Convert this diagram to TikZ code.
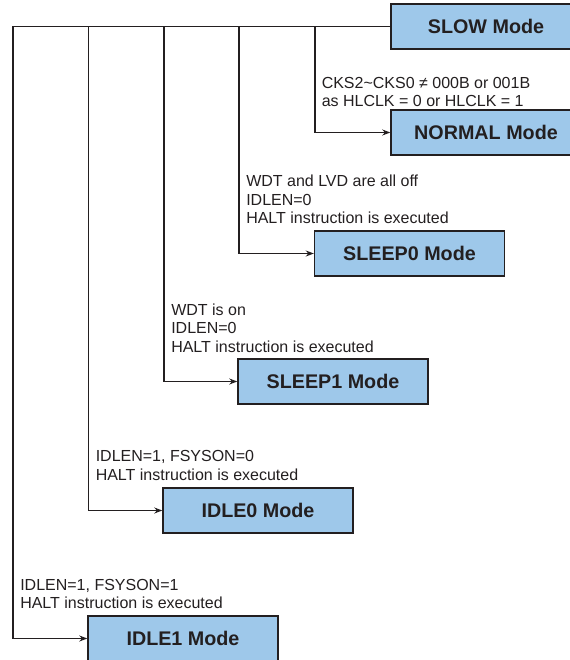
\documentclass[tikz,border=0pt]{standalone}
\usepackage{fontspec}
\setmainfont{Liberation Sans}
\usetikzlibrary{arrows.meta}
\definecolor{boxblue}{RGB}{158,200,234}
\definecolor{ink}{RGB}{35,31,32}
\tikzset{
  modebox/.style={draw=ink, line width=1.1pt, fill=boxblue, rectangle,
    minimum width=142.5pt, minimum height=33.75pt, inner sep=0pt,
    font=\fontsize{14.8}{16}\selectfont\bfseries, text=ink},
  cond/.style={anchor=base west, inner sep=0pt, align=left, text=ink,
    font=\fontsize{12}{13.75}\selectfont},
  wire/.style={draw=ink, line width=0.8pt},
  arr/.style={wire, -{Stealth[length=6pt,width=4.5pt]}}
}
\begin{document}
\begin{tikzpicture}[x=0.75pt, y=-0.75pt]
\useasboundingbox (0,0) rectangle (569,660);
% mode boxes
\node[modebox] (slow)   at (486,26.5)   {SLOW Mode};
\node[modebox] (normal) at (486,132.5)  {NORMAL Mode};
\node[modebox] (sleep0) at (409.5,253.5) {SLEEP0 Mode};
\node[modebox] (sleep1) at (333,381.5)  {SLEEP1 Mode};
\node[modebox] (idle0)  at (258,510.5)  {IDLE0 Mode};
\node[modebox] (idle1)  at (183,638.5)  {IDLE1 Mode};
% junctions on the top line
\coordinate (jn) at (315,26.5);
\coordinate (js0) at (239,26.5);
\coordinate (js1) at (164,26.5);
\coordinate (ji0) at (88.5,26.5);
\coordinate (ji1) at (13,26.5);
% connectors
\draw[wire] (slow.west) -- (ji1);
\draw[arr] (jn) |- (normal.west);
\draw[arr] (js0) |- (sleep0.west);
\draw[arr] (js1) |- (sleep1.west);
\draw[arr] (ji0) |- (idle0.west);
\draw[arr] (ji1) |- (idle1.west);
% conditions (anchored at the baseline of their last line)
\node[cond] (cn) at (321.5,107) {CKS2\textasciitilde CKS0 ≠ 000B or 001B\\as HLCLK = 0 or HLCLK = 1};
\node[cond] (cs0) at (246,223.5) {WDT and LVD are all off\\IDLEN=0\\HALT instruction is executed};
\node[cond] (cs1) at (171,352) {WDT is on\\IDLEN=0\\HALT instruction is executed};
\node[cond] (ci0) at (95.5,480) {IDLEN=1, FSYSON=0\\HALT instruction is executed};
\node[cond] (ci1) at (20,608.5) {IDLEN=1, FSYSON=1\\HALT instruction is executed};
\end{tikzpicture}
\end{document}
